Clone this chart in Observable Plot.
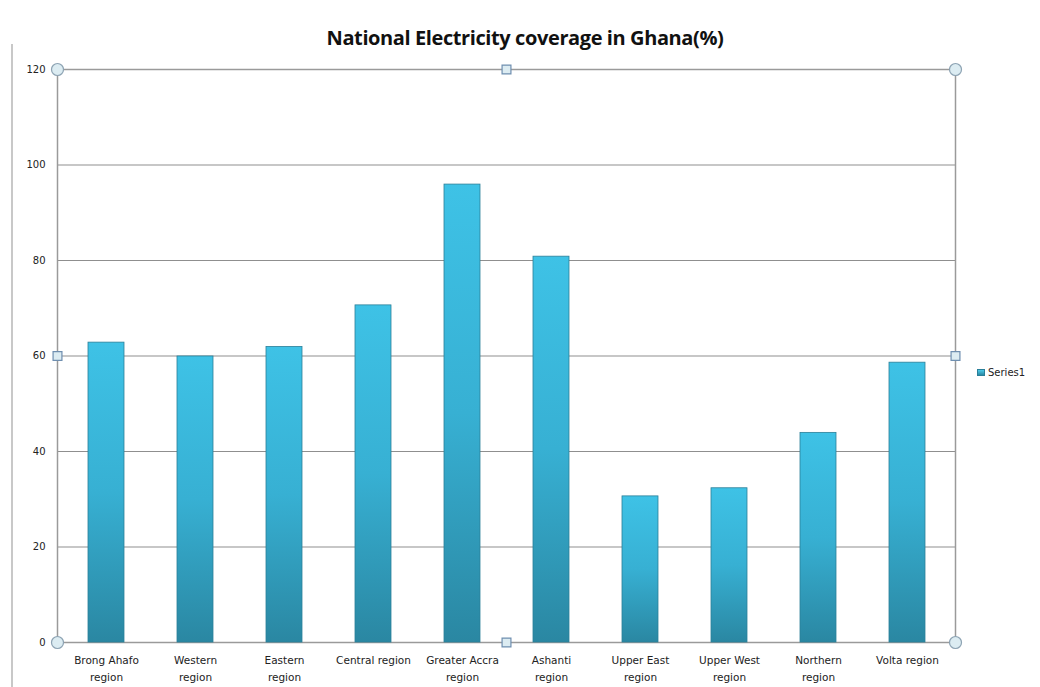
<!DOCTYPE html>
<html>
<head>
<meta charset="utf-8">
<script src="https://cdn.jsdelivr.net/npm/d3@7"></script>
<script src="https://cdn.jsdelivr.net/npm/@observablehq/plot@0.6"></script>
<style>
  html, body { margin: 0; padding: 0; background: #fff; }
  #wrap { position: relative; width: 1040px; height: 687px; overflow: hidden; }
  #title { position: absolute; left: 0; top: 24px; width: 1050px; text-align: center;
    font-family: "Open Sans", sans-serif; font-weight: 700; font-size: 20px; color: #111; letter-spacing: -0.4px; }
  #chart { position: absolute; left: 0; top: 55px; }
  #border { position: absolute; left: 11px; top: 44px; width: 0; height: 650px; border-left: 2px solid #c8c8c8; }
  #legend { position: absolute; left: 977px; top: 367px; font-family: "DejaVu Sans", sans-serif; font-size: 10px; color: #222; display: flex; align-items: center; }
  #legend .sw { width: 8px; height: 7px; background: linear-gradient(#4ccbea, #2a89a4); border: 1px solid #2a7f99; box-sizing: border-box; margin-right: 3px; }
</style>
</head>
<body>
<div id="wrap">
  <div id="border"></div>
  <div id="title">National Electricity coverage in Ghana(%)</div>
  <div id="chart"></div>
  <div id="legend"><div class="sw"></div><span>Series1</span></div>
</div>
<script>
const regions = ["Brong Ahafo region", "Western region", "Eastern region", "Central region", "Greater Accra region",
  "Ashanti region", "Upper East region", "Upper West region", "Northern region", "Volta region"];
const tickLabels = ["Brong Ahafo\nregion", "Western\nregion", "Eastern\nregion", "Central region", "Greater Accra\nregion",
  "Ashanti\nregion", "Upper East\nregion", "Upper West\nregion", "Northern\nregion", "Volta region"];
const coverage = [62.8, 59.9, 61.9, 70.6, 95.9, 80.8, 30.6, 32.3, 43.9, 58.6];
const yTicks = [0, 20, 40, 60, 80, 100, 120];

const data = regions.map((r, i) => ({region: r, value: coverage[i]}));
const labelOf = new Map(regions.map((r, i) => [r, tickLabels[i]]));

const plot = Plot.plot({
  width: 1040,
  height: 632,
  marginTop: 14,
  marginBottom: 45,
  marginLeft: 57,
  marginRight: 85,
  style: {fontFamily: "DejaVu Sans, sans-serif", fontSize: "10px", color: "#222", background: "transparent"},
  x: {domain: regions, paddingInner: 0.6, paddingOuter: 0.3, label: null},
  y: {domain: [0, 120], label: null},
  marks: [
    Plot.gridY(yTicks, {stroke: "#8f8f8f", strokeOpacity: 1, strokeWidth: 1.2}),
    Plot.frame({stroke: "#9a9a9a", strokeWidth: 1.5}),
    Plot.barY(data, {x: "region", y: "value", fill: "url(#barGrad)", stroke: "#2b7f98", strokeWidth: 0.8}),
    Plot.axisY(yTicks, {tickSize: 0, tickPadding: 12, label: null, fontSize: 10}),
    Plot.axisX({tickSize: 0, tickPadding: 10, label: null, fontSize: 10.5, lineHeight: 1.6,
      tickFormat: d => labelOf.get(d)}),
    Plot.dot([0], {frameAnchor: "top-left", r: 6, fill: "#dcecf2", stroke: "#8da3b3", strokeWidth: 1.2}),
    Plot.dot([0], {frameAnchor: "top-right", r: 6, fill: "#dcecf2", stroke: "#8da3b3", strokeWidth: 1.2}),
    Plot.dot([0], {frameAnchor: "bottom-left", r: 6, fill: "#dcecf2", stroke: "#8da3b3", strokeWidth: 1.2}),
    Plot.dot([0], {frameAnchor: "bottom-right", r: 6, fill: "#dcecf2", stroke: "#8da3b3", strokeWidth: 1.2}),
    Plot.dot([0], {frameAnchor: "top", symbol: "square", r: 5, fill: "#dcecf2", stroke: "#6f8fb0", strokeWidth: 1.2}),
    Plot.dot([0], {frameAnchor: "bottom", symbol: "square", r: 5, fill: "#dcecf2", stroke: "#6f8fb0", strokeWidth: 1.2}),
    Plot.dot([0], {frameAnchor: "left", symbol: "square", r: 5, fill: "#dcecf2", stroke: "#6f8fb0", strokeWidth: 1.2}),
    Plot.dot([0], {frameAnchor: "right", symbol: "square", r: 5, fill: "#dcecf2", stroke: "#6f8fb0", strokeWidth: 1.2})
  ]
});

const ns = "http://www.w3.org/2000/svg";
const defs = document.createElementNS(ns, "defs");
defs.innerHTML = `
  <linearGradient id="barGrad" x1="0" y1="0" x2="0" y2="1">
    <stop offset="0" stop-color="#3ec2e6"/>
    <stop offset="0.5" stop-color="#37b0d3"/>
    <stop offset="1" stop-color="#2a87a2"/>
  </linearGradient>`;
plot.insertBefore(defs, plot.firstChild);
document.getElementById("chart").appendChild(plot);
</script>
</body>
</html>
